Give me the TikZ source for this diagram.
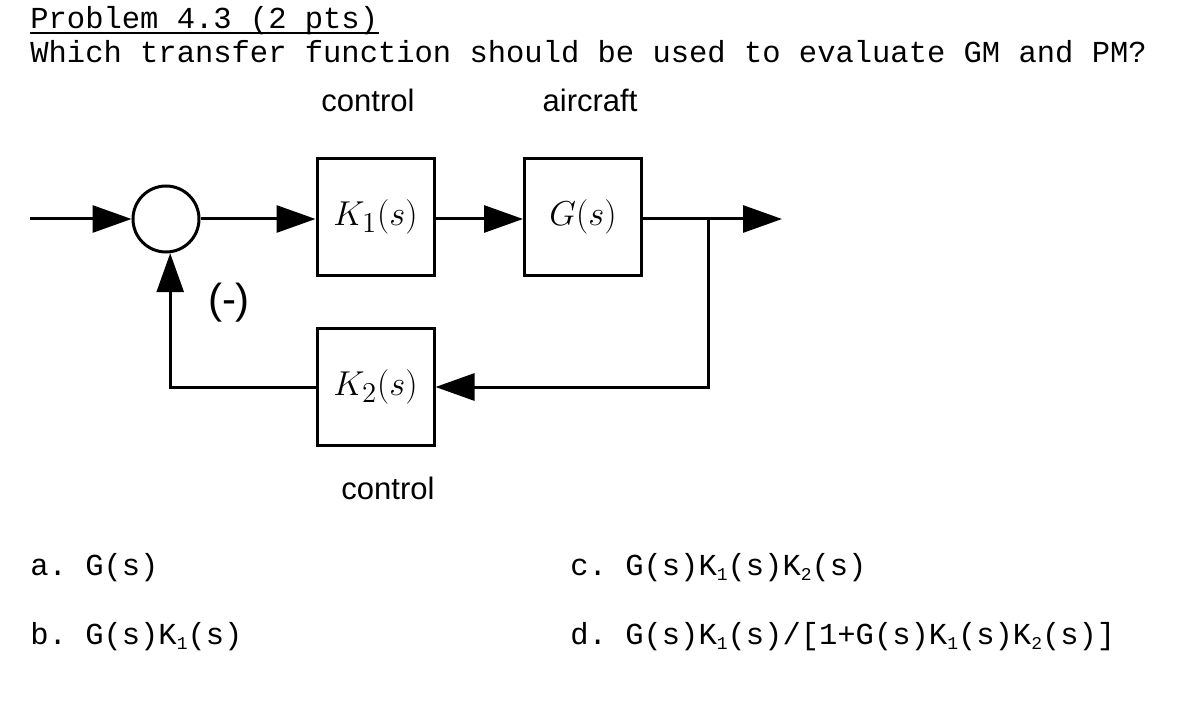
\documentclass[tikz,border=0pt]{standalone}
\usepackage{amsmath,amssymb,fontspec}
\usetikzlibrary{arrows.meta}
\setmonofont{Liberation Mono}
\setsansfont{Liberation Sans}
\newcommand{\subidx}[1]{\raisebox{-0.35ex}{\fontsize{9}{9}\selectfont #1}}

\begin{document}
\begin{tikzpicture}[x=0.5pt,y=-0.5pt,
    blk/.style={draw,line width=1.5pt,minimum size=58.5pt,inner sep=0pt,font=\fontsize{19}{21}\selectfont},
    sumj/.style={draw,circle,line width=1.5pt,minimum size=33pt,inner sep=0pt},
    sig/.style={line width=1.5pt,-{Triangle[length=19.5pt,width=13.5pt]}},
    mono/.style={font=\ttfamily\fontsize{15.25}{18}\selectfont,anchor=base west,inner sep=0pt},
    lbl/.style={font=\sffamily\fontsize{15.5}{18}\selectfont}]
      \useasboundingbox (0,0) rectangle (1180,706);
      \node [mono] (title) at (30,29) {Problem 4.3 (2 pts)};
      \draw [line width=1pt] ([yshift=-2.2pt]title.base west) -- ([yshift=-2.2pt]title.base east);
      \node [mono] (quest) at (30,63) {Which transfer function should be used to evaluate GM and PM?};
      \node [lbl] (ctrla) at (368,100) {control};
      \node [lbl] (plant) at (590,100) {aircraft};
      \node [lbl] (ctrlb) at (388,488) {control};
      \node [font=\sffamily\fontsize{21}{23}\selectfont] (neg) at (229,303) {(-)};
      \coordinate (in) at (30,219);
      \node [sumj] (sum) at (166,219) {};
      \node [blk] (k1) at (375.5,217) {$K_1(s)$};
      \node [blk] (g) at (583,217) {$G(s)$};
      \node [blk] (k2) at (375.5,387) {$K_2(s)$};
      \coordinate (br) at (708,219);
      \coordinate (out) at (782,219);
      \draw [sig] (in) -- (sum);
      \draw [sig] (sum) -- (sum -| k1.west);
      \draw [sig] (k1.east |- sum) -- (g.west |- sum);
      \draw [sig] (g.east |- sum) -- (out);
      \draw [sig] (br) |- (k2.east);
      \draw [sig] (k2.west) -| (sum.-83);
      \node [mono] (opta) at (30,575) {a. G(s)};
      \node [mono] (optb) at (30,644) {b. G(s)K\subidx{1}(s)};
      \node [mono] (optc) at (570,575) {c. G(s)K\subidx{1}(s)K\subidx{2}(s)};
      \node [mono] (optd) at (570,644) {d. G(s)K\subidx{1}(s)/[1+G(s)K\subidx{1}(s)K\subidx{2}(s)]};
\end{tikzpicture}
\end{document}
